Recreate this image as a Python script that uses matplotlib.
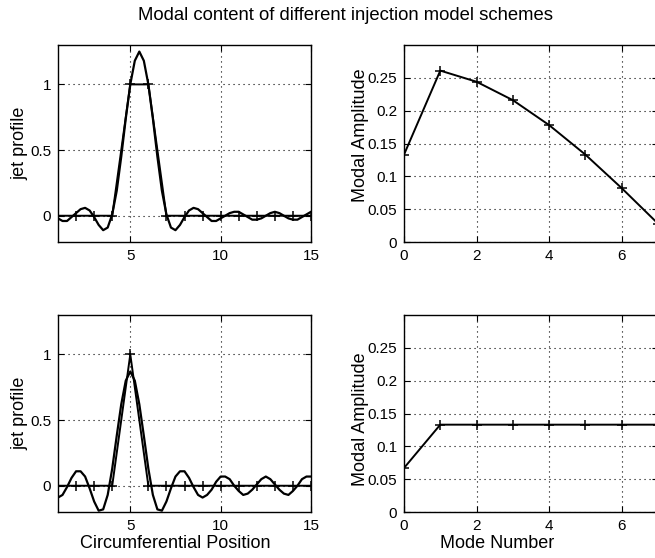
import numpy as np
import matplotlib.pyplot as plt

plt.rcParams['font.family'] = ['Liberation Sans', 'DejaVu Sans']

# circumferential positions of the injection samples
positions = np.arange(1, 16)
jets_top = [0, 0, 0, 0, 1, 1, 0, 0, 0, 0, 0, 0, 0, 0, 0]
jets_bottom = [0, 0, 0, 0, 1, 0, 0, 0, 0, 0, 0, 0, 0, 0, 0]

# reconstructed jet profile (step 0.25)
x_fine = np.arange(1, 15.001, 0.25)
profile_top = [-0.02, -0.04, -0.04, -0.01, 0.02, 0.05, 0.06, 0.04, -0.01, -0.07,
               -0.11, -0.09, 0.01, 0.19, 0.45, 0.74, 1.00, 1.18, 1.25, 1.18,
               1.00, 0.74, 0.45, 0.19, 0.01, -0.09, -0.11, -0.07, -0.01, 0.04,
               0.06, 0.05, 0.02, -0.01, -0.04, -0.04, -0.02, 0.00, 0.02, 0.03,
               0.03, 0.01, -0.01, -0.03, -0.03, -0.02, 0.00, 0.02, 0.03, 0.02,
               0.00, -0.02, -0.03, -0.03, -0.01, 0.01, 0.03]
profile_bottom = [-0.09, -0.07, -0.01, 0.06, 0.11, 0.11, 0.07, -0.02, -0.12, -0.19,
                  -0.18, -0.07, 0.13, 0.38, 0.62, 0.80, 0.87, 0.80, 0.62, 0.38,
                  0.13, -0.07, -0.18, -0.19, -0.12, -0.02, 0.07, 0.11, 0.11, 0.06,
                  -0.01, -0.07, -0.09, -0.07, -0.03, 0.03, 0.07, 0.07, 0.05, 0.00,
                  -0.04, -0.07, -0.06, -0.03, 0.01, 0.05, 0.07, 0.05, 0.01, -0.03,
                  -0.06, -0.07, -0.04, 0.00, 0.05, 0.07, 0.07]

# modal amplitudes
modes = np.arange(0, 8)
amp_top = [0.133, 0.261, 0.244, 0.216, 0.178, 0.133, 0.082, 0.028]
amp_bottom = [0.067, 0.133, 0.133, 0.133, 0.133, 0.133, 0.133, 0.133]

fig = plt.figure(figsize=(6.55, 5.58), dpi=100)
W, H = 655, 558


def add_axes(left, top, right, bottom):
    return fig.add_axes([left / W, 1 - bottom / H, (right - left) / W, (bottom - top) / H])


ax_tl = add_axes(58, 45, 311, 242)
ax_tr = add_axes(404, 45, 658, 242)
ax_bl = add_axes(58, 315, 311, 512)
ax_br = add_axes(404, 315, 658, 512)

for ax in (ax_tl, ax_tr, ax_bl, ax_br):
    ax.grid(True, color='black', linestyle=(0, (1, 3.5)), linewidth=0.8)
    ax.tick_params(direction='in', length=4, width=0.8, labelsize=11, pad=5,
                   top=True, right=True)
    for s in ax.spines.values():
        s.set_linewidth(1.0)

line_kw = dict(color='black', linewidth=1.6, solid_joinstyle='round')
mark_kw = dict(color='black', linewidth=1.4, marker='+', markersize=7, markeredgewidth=1.1)

# left column: jet profiles
for ax, jets, prof in ((ax_tl, jets_top, profile_top), (ax_bl, jets_bottom, profile_bottom)):
    ax.plot(positions, jets, **mark_kw)
    ax.plot(x_fine, prof, **line_kw)
    ax.set_xlim(1, 15)
    ax.set_ylim(-0.2, 1.3)
    ax.set_xticks([5, 10, 15])
    ax.set_yticks([0, 0.5, 1])
    ax.set_yticklabels(['0', '0.5', '1'])
    ax.set_ylabel('jet profile', fontsize=13)
    ax.yaxis.set_label_coords(-0.118, 0.5)

# right column: modal amplitudes
for ax, amp, ly in ((ax_tr, amp_top, 0.54), (ax_br, amp_bottom, 0.47)):
    ax.plot(modes, amp, **mark_kw)
    ax.set_xlim(0, 7)
    ax.set_ylim(0, 0.3)
    ax.set_xticks([0, 2, 4, 6])
    ax.set_yticks([0, 0.05, 0.1, 0.15, 0.2, 0.25])
    ax.set_yticklabels(['0', '0.05', '0.1', '0.15', '0.2', '0.25'])
    ax.set_ylabel('Modal Amplitude', fontsize=13)
    ax.yaxis.set_label_coords(-0.138, ly)

ax_bl.set_xlabel('Circumferential Position', fontsize=13)
ax_bl.xaxis.set_label_coords(0.462, -0.162)
ax_bl.xaxis.label.set_va('center')
ax_br.set_xlabel('Mode Number', fontsize=13)
ax_br.xaxis.set_label_coords(0.366, -0.162)
ax_br.xaxis.label.set_va('center')

fig.text(346 / W, 1 - 15 / H, 'Modal content of different injection model schemes',
         ha='center', va='center', fontsize=13.3)

fig.savefig('out.png', dpi=100)
